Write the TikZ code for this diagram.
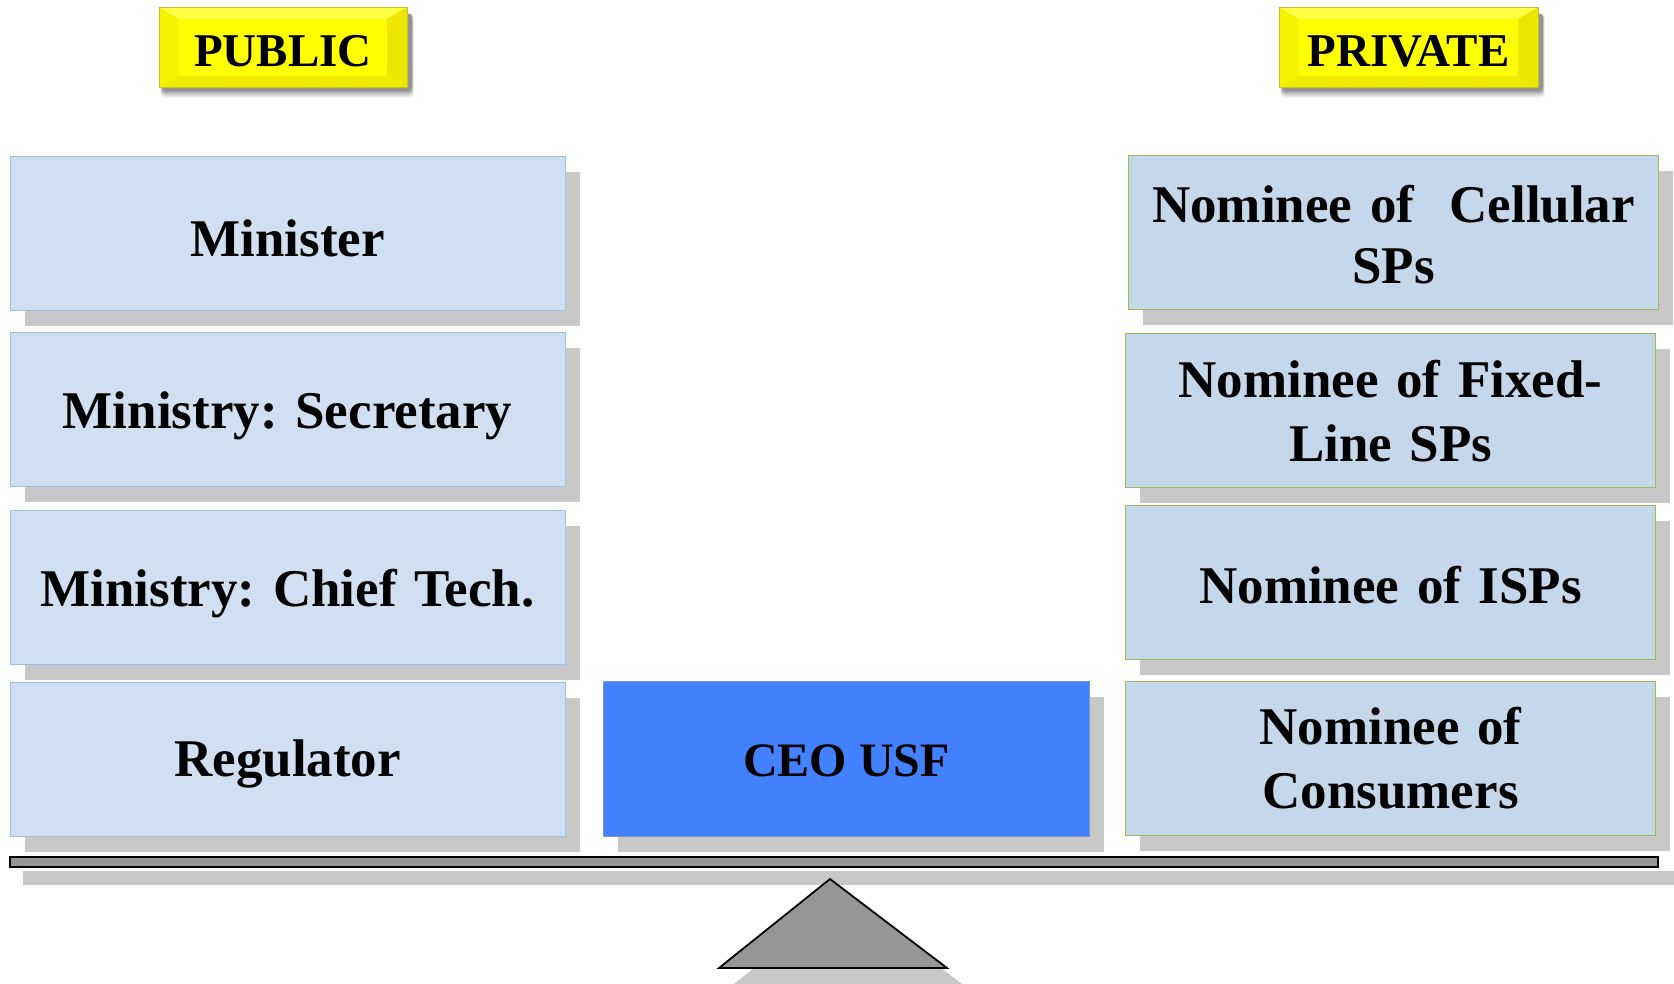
\documentclass[tikz,border=0pt]{standalone}
\usepackage{fontspec}
\setmainfont{Liberation Serif}
\frenchspacing
\definecolor{pubfill}{RGB}{208,224,242}
\definecolor{pubedge}{RGB}{156,194,235}
\definecolor{privfill}{RGB}{197,215,235}
\definecolor{privedge}{RGB}{155,187,89}
\definecolor{ceofill}{RGB}{66,129,255}
\definecolor{ceoedge}{RGB}{127,150,200}
\definecolor{shadowgray}{RGB}{200,200,200}
\definecolor{beamgray}{RGB}{150,150,150}
\definecolor{ylw}{RGB}{255,255,0}
\definecolor{ylwdark}{RGB}{236,230,0}
\definecolor{ylwlight}{RGB}{255,255,70}
\definecolor{ylwedge}{RGB}{205,190,40}
\newcommand{\lowtext}[2]{\raisebox{-#1pt}[\height][\depth]{#2}}
\begin{document}
\begin{tikzpicture}[x=1pt,y=-1pt,
  shadowbox/.style={fill=shadowgray,draw=none},
  bigtext/.style={font=\fontsize{53}{64}\selectfont\bfseries,align=center},
  pubbox/.style={bigtext,draw=pubedge,fill=pubfill,line width=1.2pt,minimum width=555pt,minimum height=154pt,anchor=north west,inner sep=0pt,text width=540pt},
  privbox/.style={bigtext,draw=privedge,fill=privfill,line width=1.2pt,minimum width=530pt,minimum height=154pt,anchor=north west,inner sep=0pt,text width=515pt},
  ceobox/.style={font=\fontsize{48}{58}\selectfont\bfseries,draw=ceoedge,fill=ceofill,line width=1.2pt,minimum width=486pt,minimum height=155pt,anchor=north west,inner sep=0pt},
  tagtext/.style={font=\fontsize{47}{54}\selectfont\bfseries},
  beamstyle/.style={fill=beamgray,draw=black,line width=2pt}
]
\useasboundingbox (0,0) rectangle (1674,983);

% ---- soft shadows of the yellow tags
\foreach \d/\o in {9/0.08,7/0.1,5/0.14,3/0.18}{
  \fill[black,opacity=\o,rounded corners=4pt] (159+4-\d*0.3,7.5+6) rectangle (407+4+\d*0.3,87.5+1+\d);
  \fill[black,opacity=\o,rounded corners=4pt] (1279+4-\d*0.3,7.5+6) rectangle (1538+4+\d*0.3,87.5+1+\d);
}

% ---- PUBLIC tag
\fill[ylw] (159,7.5) rectangle (407,87.5);
\fill[ylwlight] (159,7.5) -- (407,7.5) -- (387,19) -- (179,19) -- cycle;
\fill[ylwdark!50!ylw] (159,7.5) -- (179,19) -- (179,76) -- (159,87.5) -- cycle;
\fill[ylwdark] (407,7.5) -- (387,19) -- (387,76) -- (407,87.5) -- cycle;
\fill[ylwdark!80!ylw] (159,87.5) -- (179,76) -- (387,76) -- (407,87.5) -- cycle;
\draw[ylwedge,line width=0.8pt] (159,7.5) rectangle (407,87.5);
\node[tagtext] (public) at (283,51) {PUBLIC};

% ---- PRIVATE tag
\fill[ylw] (1279,7.5) rectangle (1538,87.5);
\fill[ylwlight] (1279,7.5) -- (1538,7.5) -- (1518,19) -- (1299,19) -- cycle;
\fill[ylwdark!50!ylw] (1279,7.5) -- (1299,19) -- (1299,76) -- (1279,87.5) -- cycle;
\fill[ylwdark] (1538,7.5) -- (1518,19) -- (1518,76) -- (1538,87.5) -- cycle;
\fill[ylwdark!80!ylw] (1279,87.5) -- (1299,76) -- (1518,76) -- (1538,87.5) -- cycle;
\draw[ylwedge,line width=0.8pt] (1279,7.5) rectangle (1538,87.5);
\node[tagtext] (private) at (1408.5,51) {PRIVATE};

% ---- box shadows (offset 15 right, 16 down)
\foreach \y in {156,332,510,682}{
  \fill[shadowbox] (9.5+15,\y+16) rectangle (564.5+15,\y+154+16);
}
\fill[shadowbox] (1128+15,155+16) rectangle (1658+15,155+154+16);
\foreach \y in {333,505,681}{
  \fill[shadowbox] (1125+15,\y+16) rectangle (1655+15,\y+154+16);
}
\fill[shadowbox] (603+15,681+16) rectangle (1089+15,681+155+16);

% ---- public boxes
\node[pubbox] (minister)  at (9.5,156) {\lowtext{5}{Minister}};
\node[pubbox] (secretary) at (9.5,332) {\lowtext{6}{Ministry: Secretary}};
\node[pubbox] (chief)     at (9.5,510) {\lowtext{6}{Ministry: Chief Tech.}};
\node[pubbox] (regulator) at (9.5,682) {\lowtext{4}{Regulator}};

% ---- private boxes
\node[privbox] (cellular)  at (1128,155) {\lowtext{3}{Nominee of\ \ Cellular}\\SPs};
\node[privbox] (fixed)     at (1125,333) {Nominee of Fixed-\\Line SPs};
\node[privbox] (isps)      at (1125,505) {\lowtext{2}{Nominee of ISPs}};
\node[privbox] (consumers) at (1125,681) {Nominee of\\Consumers};

% ---- CEO box
\node[ceobox] (ceo) at (603,681) {\lowtext{2}{CEO USF}};

% ---- beam and fulcrum
\fill[shadowbox] (23,871) rectangle (1674,885);
\draw[beamstyle] (9.5,857) rectangle (1658,867);
\fill[shadowbox] (830+15,879+16) -- (947+15,968+16) -- (719+15,968+16) -- cycle;
\draw[beamstyle,line width=1.8pt,line join=miter] (830,879) -- (947,968) -- (719,968) -- cycle;
\end{tikzpicture}
\end{document}
